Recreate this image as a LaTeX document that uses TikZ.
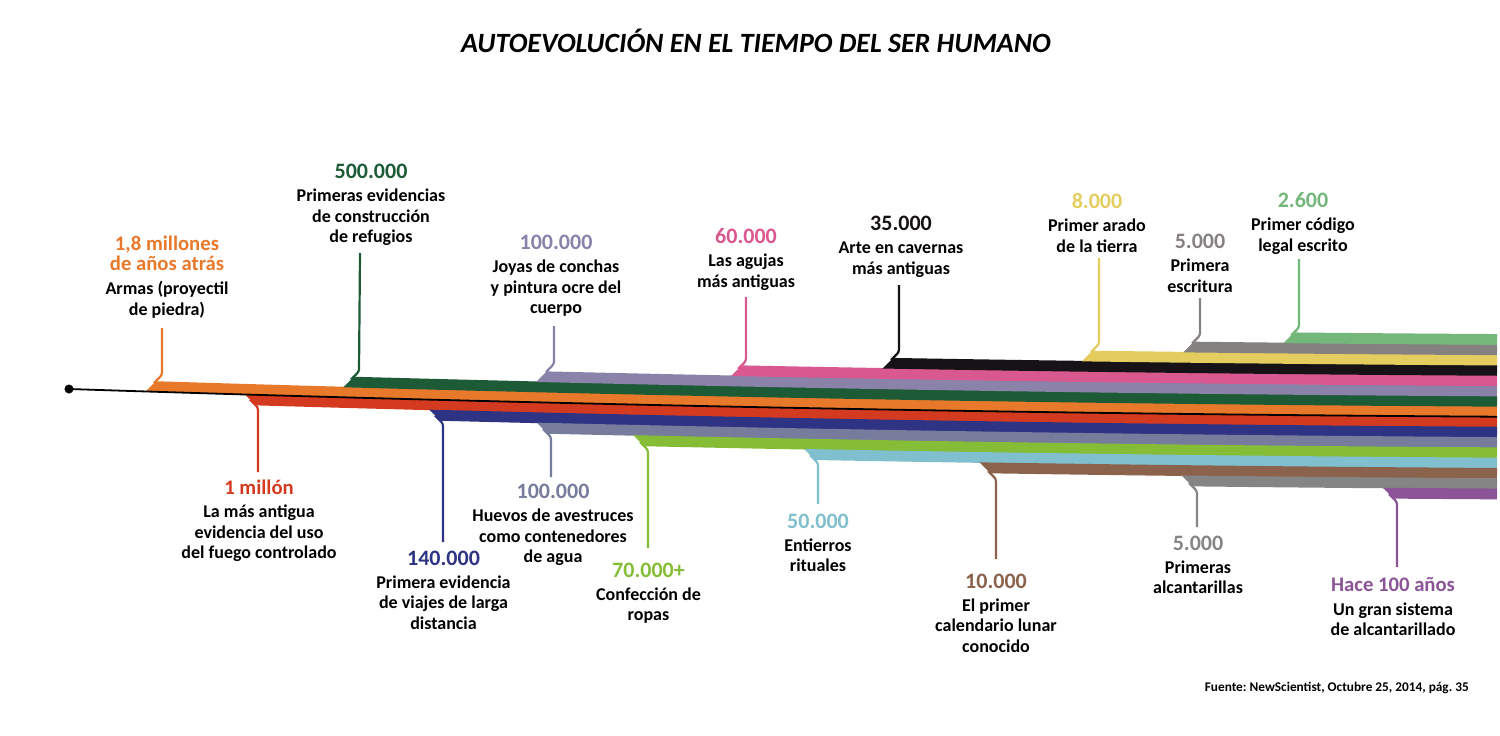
\documentclass[tikz,border=0pt]{standalone}
\usepackage{fontspec}
\setmainfont{Carlito}
\usepackage{tikz}
\frenchspacing

\definecolor{c18m}{HTML}{E8792B}
\definecolor{c1m}{HTML}{D43A20}
\definecolor{c500k}{HTML}{1D5B37}
\definecolor{c140k}{HTML}{2E3383}
\definecolor{c100ka}{HTML}{8A82A9}
\definecolor{c100kb}{HTML}{777C9C}
\definecolor{c70k}{HTML}{86BD37}
\definecolor{c60k}{HTML}{D9588F}
\definecolor{c50k}{HTML}{80BFCD}
\definecolor{c35k}{HTML}{161215}
\definecolor{c10k}{HTML}{8B624C}
\definecolor{c8k}{HTML}{E4CD5E}
\definecolor{c5ka}{HTML}{858181}
\definecolor{c5kb}{HTML}{858585}
\definecolor{c2600}{HTML}{73B77B}
\definecolor{c100}{HTML}{8A5496}

\tikzset{font=\fontsize{18}{20.5}\selectfont\bfseries, inner sep=0pt}
\tikzstyle{event} = [align=center, anchor=north]
\tikzstyle{stem} = [line width=2.2pt, rounded corners=2.5pt]
\tikzstyle{band} = [line width=10.8pt]
\tikzstyle{spine} = [line width=1.8pt, black]
\tikzstyle{dot} = [draw, circle, fill, minimum size=8.5pt, inner sep=0pt]
\tikzstyle{heading} = [font=\fontsize{27.9}{28}\selectfont\bfseries\itshape, anchor=base]
\tikzstyle{source} = [font=\fontsize{13.3}{14}\selectfont\bfseries, anchor=base east]

\newcommand{\fecha}[2]{\textcolor{#1}{\fontsize{22}{20.5}\selectfont\rule{0pt}{16.5pt}#2}}
\newcommand{\fechaw}[2]{\textcolor{#1}{\fontsize{20.7}{20.5}\selectfont\rule{0pt}{16.5pt}#2}}
% one coloured strand of the bundle, cut at its knee
\newcommand{\strand}[6]{%
  \coordinate (#1) at (#4,#5);
  \begin{scope}
    \clip ({#4+60*(#6)},{#5-60}) -- ({#4-60*(#6)},{#5+60}) -- (1500,{#5+60}) -- (1500,{#5-60}) -- cycle;
    \draw[band, #2] [shift={(0,#3)}] (69,389) .. controls (545,404.63) and (1021,413.87) .. (1497,416.7);
  \end{scope}}

\begin{document}
\begin{tikzpicture}[x=1pt, y=-1pt]
    \useasboundingbox (0,0) rectangle (1500,736);

    \node [heading] (title) at (756,52) {AUTOEVOLUCIÓN EN EL TIEMPO DEL SER HUMANO};

    % strands above the line
    \strand{k18m}{c18m}{-5.15}{162}{375}{1}
    \strand{k500k}{c500k}{-15.45}{359}{371.5}{1}
    \strand{k100ka}{c100ka}{-25.75}{554}{364}{1}
    \strand{k60k}{c60k}{-36.05}{746}{361}{1}
    \strand{k35k}{c35k}{-46.35}{899}{352}{1}
    \strand{k8k}{c8k}{-56.65}{1099}{344}{1}
    \strand{k5ka}{c5ka}{-66.95}{1200}{335.5}{1}
    \strand{k2600}{c2600}{-77.25}{1299}{327.5}{1}
    % strands below the line
    \strand{k1m}{c1m}{5.15}{258}{407.5}{-1}
    \strand{k140k}{c140k}{15.45}{443}{423.5}{-1}
    \strand{k100kb}{c100kb}{25.75}{551}{437}{-1}
    \strand{k70k}{c70k}{36.05}{648}{450}{-1}
    \strand{k50k}{c50k}{46.35}{818}{463}{-1}
    \strand{k10k}{c10k}{56.65}{996}{479}{-1}
    \strand{k5kb}{c5kb}{66.95}{1197}{491}{-1}
    \strand{k100}{c100}{77.25}{1397}{502}{-1}

    \node [dot] (origen) at (69,389) {};
    \coordinate (hoy) at (1497,416.7);
    \draw [spine] (origen.center) .. controls (545,404.63) and (1021,413.87) .. (hoy);

    % labels above
    \node [event] (e18m) at (167,233.5) {\fechaw{c18m}{1,8 millones}\\ \fechaw{c18m}{de años atrás}\\[3.5pt] Armas (proyectil\\ de piedra)};
    \node [event] (e500k) at (371,161.8) {\fecha{c500k}{500.000}\\[2.5pt] Primeras evidencias\\ de construcción\\ de refugios};
    \node [event] (e100ka) at (556,232.8) {\fecha{c100ka}{100.000}\\[2.5pt] Joyas de conchas\\ y pintura ocre del\\ cuerpo};
    \node [event] (e60k) at (746,226.8) {\fecha{c60k}{60.000}\\[2.5pt] Las agujas\\ más antiguas};
    \node [event] (e35k) at (901,214.2) {\fecha{c35k}{35.000}\\[2.5pt] Arte en cavernas\\ más antiguas};
    \node [event] (e8k) at (1097,191.8) {\fecha{c8k}{8.000}\\[2.5pt] Primer arado\\ de la tierra};
    \node [event] (e5ka) at (1200,231.8) {\fecha{c5ka}{5.000}\\[2.5pt] Primera\\ escritura};
    \node [event] (e2600) at (1303,190.8) {\fecha{c2600}{2.600}\\[2.5pt] Primer código\\ legal escrito};
    % labels below
    \node [event] (e1m) at (259,477.9) {\fechaw{c1m}{1 millón}\\[2.5pt] La más antigua\\ evidencia del uso\\ del fuego controlado};
    \node [event] (e140k) at (443.5,548.5) {\fecha{c140k}{140.000}\\[2.5pt] Primera evidencia\\ de viajes de larga\\ distancia};
    \node [event] (e100kb) at (553,482.1) {\fecha{c100kb}{100.000}\\[2.5pt] Huevos de avestruces\\ como contenedores\\ de agua};
    \node [event] (e70k) at (648.5,560.5) {\fecha{c70k}{70.000+}\\[2.5pt] Confección de\\ ropas};
    \node [event] (e50k) at (818,511.5) {\fecha{c50k}{50.000}\\[2.5pt] Entierros\\ rituales};
    \node [event] (e10k) at (996,571.5) {\fecha{c10k}{10.000}\\[2.5pt] El primer\\ calendario lunar\\ conocido};
    \node [event] (e5kb) at (1198,533.5) {\fecha{c5kb}{5.000}\\[2.5pt] Primeras\\ alcantarillas};
    \node [event] (e100) at (1393,575) {\fechaw{c100}{Hace 100 años}\\[3pt] Un gran sistema\\ de alcantarillado};

    % stems
    \coordinate (s18m) at (162,328);
    \coordinate (s500k) at (360,253);
    \coordinate (s100ka) at (554,326);
    \coordinate (s60k) at (746,297);
    \coordinate (s35k) at (899,285);
    \coordinate (s8k) at (1099,258);
    \coordinate (s5ka) at (1200,298);
    \coordinate (s2600) at (1299,259);
    \coordinate (s1m) at (258,472);
    \coordinate (s140k) at (443,542);
    \coordinate (s100kb) at (551,477);
    \coordinate (s70k) at (648,548);
    \coordinate (s50k) at (818,504);
    \coordinate (s10k) at (996,559);
    \coordinate (s5kb) at (1197,527);
    \coordinate (s100) at (1397,567);

    \draw [stem, c18m] (s18m) -- (k18m) -- ++(-8,8);
    \draw [stem, c500k] (s500k) -- (k500k) -- ++(-8,8);
    \draw [stem, c100ka] (s100ka) -- (k100ka) -- ++(-8,8);
    \draw [stem, c60k] (s60k) -- (k60k) -- ++(-8,8);
    \draw [stem, c35k] (s35k) -- (k35k) -- ++(-8,8);
    \draw [stem, c8k] (s8k) -- (k8k) -- ++(-8,8);
    \draw [stem, c5ka] (s5ka) -- (k5ka) -- ++(-8,8);
    \draw [stem, c2600] (s2600) -- (k2600) -- ++(-8,8);
    \draw [stem, c1m] (s1m) -- (k1m) -- ++(-8,-8);
    \draw [stem, c140k] (s140k) -- (k140k) -- ++(-8,-8);
    \draw [stem, c100kb] (s100kb) -- (k100kb) -- ++(-8,-8);
    \draw [stem, c70k] (s70k) -- (k70k) -- ++(-8,-8);
    \draw [stem, c50k] (s50k) -- (k50k) -- ++(-8,-8);
    \draw [stem, c10k] (s10k) -- (k10k) -- ++(-8,-8);
    \draw [stem, c5kb] (s5kb) -- (k5kb) -- ++(-8,-8);
    \draw [stem, c100] (s100) -- (k100) -- ++(-8,-8);

    \node [source] (fuente) at (1469,691) {Fuente: NewScientist, Octubre 25, 2014, pág. 35};
\end{tikzpicture}
\end{document}
